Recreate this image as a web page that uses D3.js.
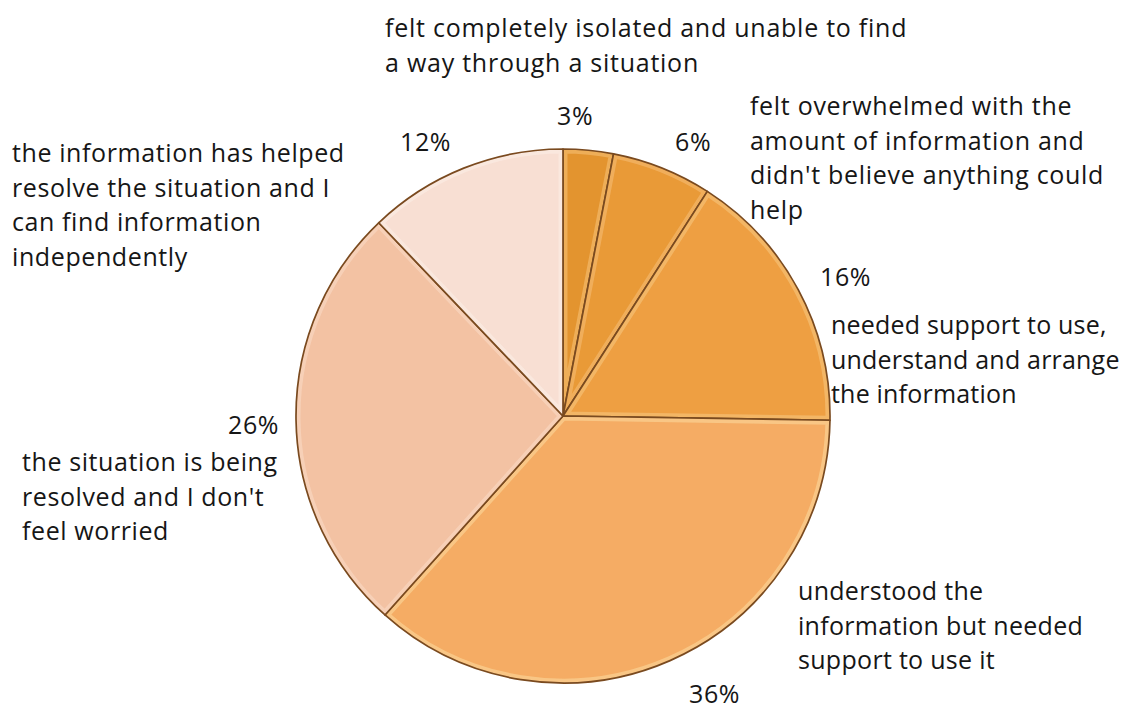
<!DOCTYPE html>
<html>
<head>
<meta charset="utf-8">
<script src="https://cdn.jsdelivr.net/npm/d3@7"></script>
<style>
  html, body { margin: 0; padding: 0; background: #ffffff; }
  svg { display: block; }
  text { font-family: "Open Sans", Lato, sans-serif; fill: #161616; letter-spacing: 0.6px; }
</style>
</head>
<body>
<svg id="chart" width="1134" height="711"></svg>
<script>
// Survey outcome categories, clockwise from 12 o'clock
const categories = [
  "felt completely isolated and unable to find a way through a situation",
  "felt overwhelmed with the amount of information and didn't believe anything could help",
  "needed support to use, understand and arrange the information",
  "understood the information but needed support to use it",
  "the situation is being resolved and I don't feel worried",
  "the information has helped resolve the situation and I can find information independently"
];
// Share of respondents (%)
const values = [3, 6, 16, 36, 26, 12];
// Category text broken into the lines shown beside the pie
const categoryLines = [
  ["felt completely isolated and unable to find", "a way through a situation"],
  ["felt overwhelmed with the", "amount of information and", "didn't believe anything could", "help"],
  ["needed support to use,", "understand and arrange", "the information"],
  ["understood the", "information but needed", "support to use it"],
  ["the situation is being", "resolved and I don't", "feel worried"],
  ["the information has helped", "resolve the situation and I", "can find information", "independently"]
];

// Layout and styling
const W = 1134, H = 711;
const cx = 563, cy = 416, R = 267;
const fills = ["#e3942f", "#e99a37", "#ee9f42", "#f5ac64", "#f3c2a3", "#f8dfd3"];
const highlights = ["#f7c27a", "#f6c07a", "#f8c884", "#fbdca0", "#f9dcc8", "#fcefe8"];
const fontSize = 25, lineGap = 34.5;
// per-block letter spacing (the two right-hand blocks run a little tighter)
const blockSpacing = [0.75, 0.7, 0.2, 0.3, 0.6, 0.6];
// [x, first baseline] of each category block, and of each percentage
const textPos = [[385, 37], [750, 115], [831, 334], [798, 600], [22, 471], [12, 162]];
const pctPos = [[557, 125], [675, 151], [820, 286], [689, 703], [228, 434], [400, 151]];

const svg = d3.select("#chart");
const defs = svg.append("defs");

const pie = d3.pie().sort(null).value(d => d).startAngle(0).endAngle(2 * Math.PI);
const arcs = pie(values);
const arc = d3.arc().innerRadius(0).outerRadius(R);

const g = svg.append("g").attr("transform", `translate(${cx},${cy})`);

// clip paths so the bevel highlight stays inside each slice
arcs.forEach((a, i) => {
  defs.append("clipPath").attr("id", "clip" + i)
    .append("path").attr("d", arc(a));
});

const slices = g.selectAll("g.slice").data(arcs).join("g").attr("class", "slice");

slices.append("path")
  .attr("d", arc)
  .attr("fill", (d, i) => fills[i]);

slices.append("path")
  .attr("d", arc)
  .attr("fill", "none")
  .attr("stroke", (d, i) => highlights[i])
  .attr("stroke-width", 9)
  .attr("stroke-opacity", 0.55)
  .attr("clip-path", (d, i) => `url(#clip${i})`);

slices.append("path")
  .attr("d", arc)
  .attr("fill", "none")
  .attr("stroke", "#7a4a1f")
  .attr("stroke-width", 1.7)
  .attr("stroke-linejoin", "round");

// category text blocks
const labels = svg.append("g").attr("font-size", fontSize);
categoryLines.forEach((lines, i) => {
  const t = labels.append("text")
    .attr("x", textPos[i][0])
    .attr("y", textPos[i][1])
    .style("letter-spacing", blockSpacing[i] + "px");
  lines.forEach((ln, j) => {
    t.append("tspan")
      .attr("x", textPos[i][0])
      .attr("y", textPos[i][1] + j * lineGap)
      .text(ln);
  });
});

// percentage labels
const fmt = d3.format(".0f");
labels.selectAll("text.pct").data(arcs).join("text")
  .attr("class", "pct")
  .attr("x", (d, i) => pctPos[i][0])
  .attr("y", (d, i) => pctPos[i][1])
  .text(d => fmt(d.data) + "%");
</script>
</body>
</html>
